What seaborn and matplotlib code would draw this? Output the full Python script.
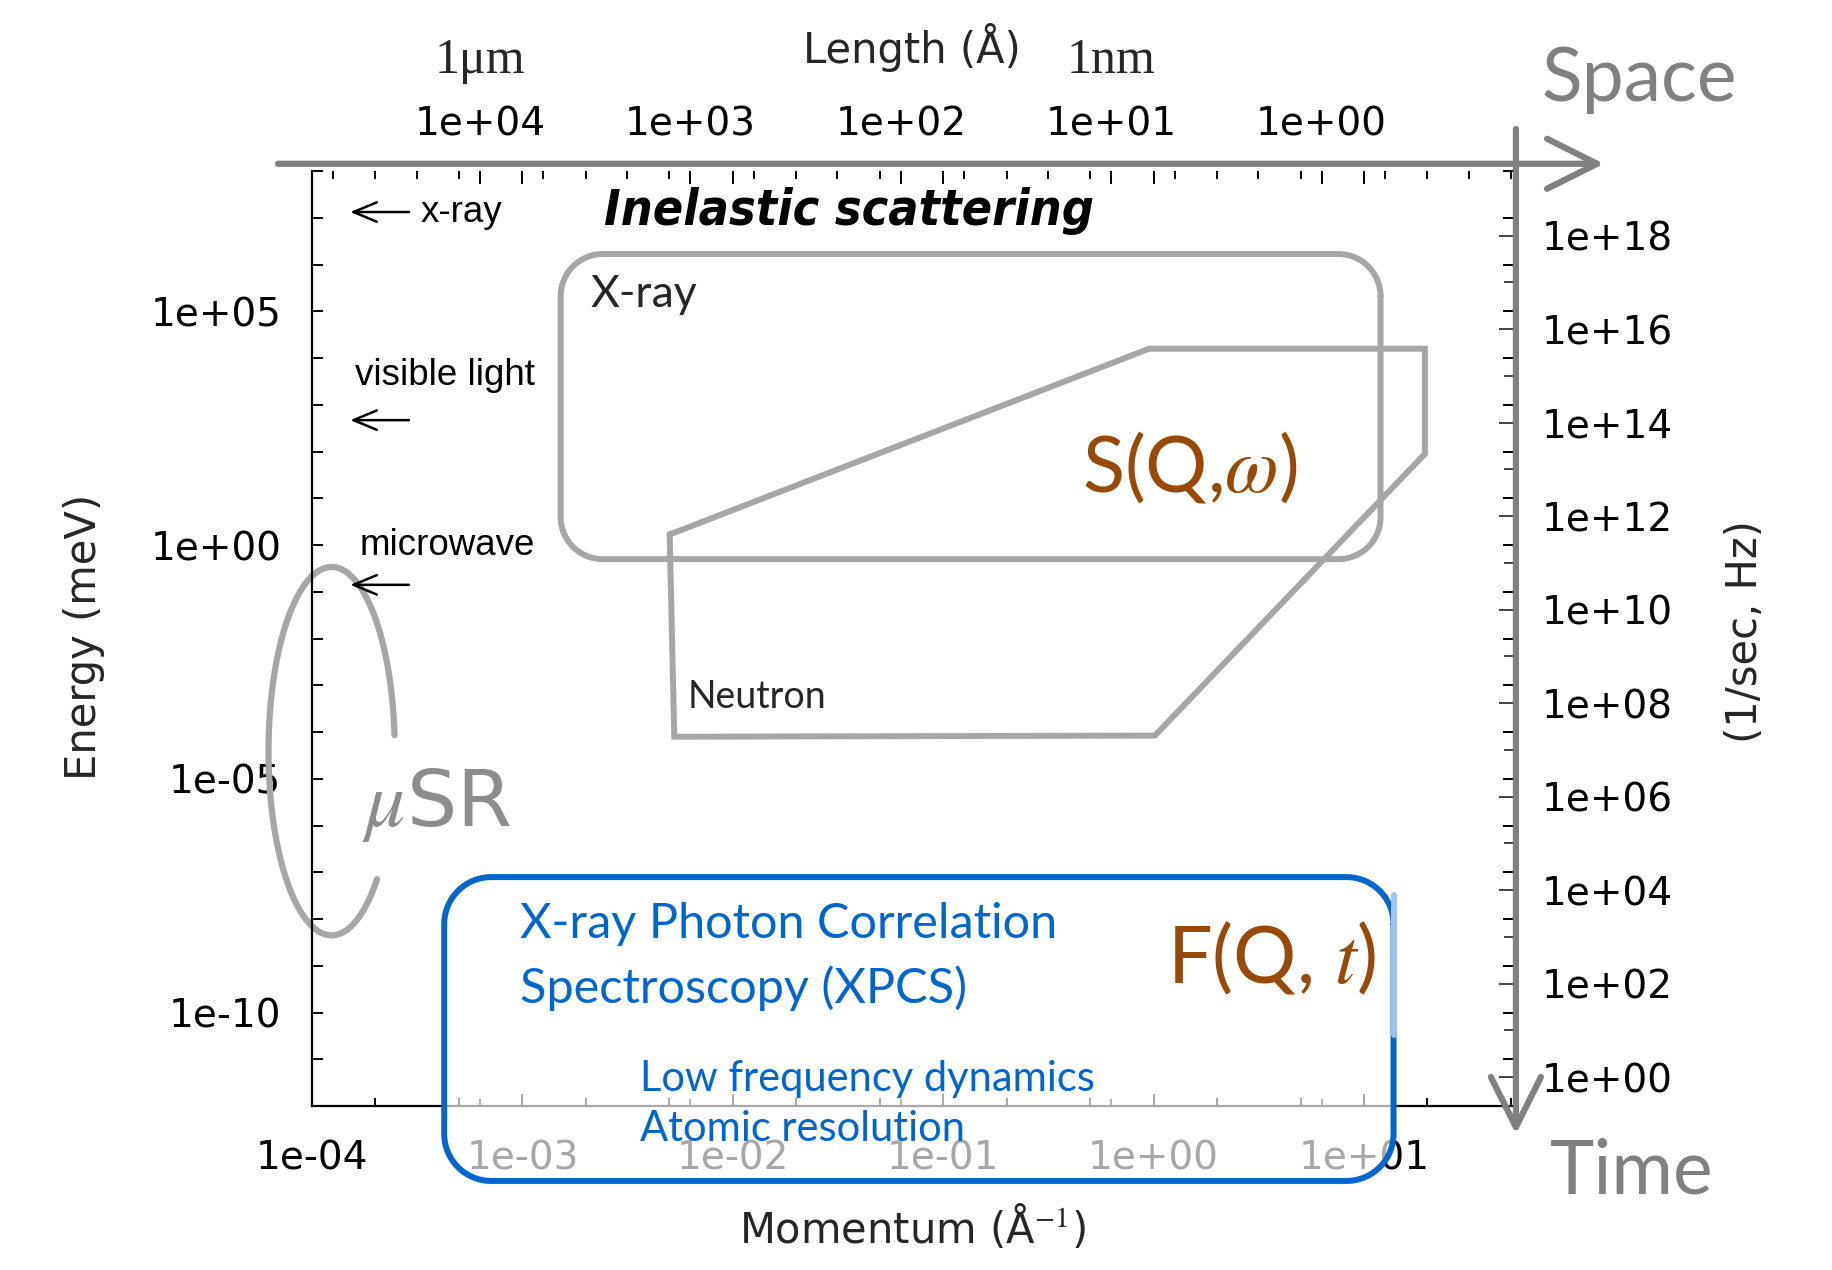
import numpy as np
import pandas as pd
import matplotlib
matplotlib.use("Agg")
import matplotlib.pyplot as plt
import matplotlib.ticker as mticker
import matplotlib.transforms as mtransforms
import seaborn as sns

# ---------------- chart values ----------------
momentum_limits = [1e-4, 51.5]                      # 1/Å
energy_limits = [1e-12, 1e8]                        # meV
momentum_ticks = [1e-4, 1e-3, 1e-2, 1e-1, 1e0, 1e1]
energy_ticks = [1e-10, 1e-5, 1e0, 1e5]
energy_decades = [10.0 ** k for k in range(-12, 9)]
length_ticks = [1e4, 1e3, 1e2, 1e1, 1e0]            # Å
frequency_ticks = [10.0 ** k for k in range(0, 19, 2)]        # Hz
frequency_minor_ticks = [10.0 ** k for k in range(1, 19, 2)]
MEV_TO_HZ = 2.417989e11

length_marks = ["1μm", "1nm"]
length_mark_values = [1e4, 1e1]

band_names = ["x-ray", "visible light", "microwave"]
band_arrow_energy = [1.33e7, 4.7e2, 0.141]
band_label_momentum = [3.29e-4, 1.61e-4, 1.69e-4]
band_label_energy = [1.33e7, 4.2e3, 1.0]
band_arrow_momentum = [2.89e-4, 1.52e-4]            # tail, head

xray_momentum = [1.52e-3, 11.97]
xray_energy = [0.50, 1.68e6]

neutron_momentum = [5.01e-3, 0.951, 19.45, 19.45, 1.014, 5.27e-3, 5.01e-3]
neutron_energy = [1.68, 1.585e4, 1.585e4, 89.1, 8.41e-5, 7.94e-5, 1.68]

xpcs_momentum = [4.25e-4, 13.8]
xpcs_energy = [2.5e-14, 7.9e-8]
xpcs_light_edge_energy = [3.35e-8, 3.35e-11]

musr_center = [1.24e-4, 3.9e-5]
musr_half_decades = [0.30, 3.94]
musr_arc_degrees = [5, 316]

# ---------------- style ----------------
sns.set_theme(style="white")
plt.rcParams['font.family'] = ['DejaVu Sans']
plt.rcParams['mathtext.fontset'] = 'stix'

GRAY_LINE = '#A6A6A6'
GRAY_AXIS = '#808080'
BROWN = '#984807'
BLUE = '#0066CC'

fig = plt.figure(figsize=(18.33, 12.70), dpi=100)
ax = fig.add_axes([0.1702, 0.1291, 0.6557, 0.7362])
ax.set_facecolor('white')
ax.set_xscale('log')
ax.set_yscale('log')
ax.set_xlim(momentum_limits)
ax.set_ylim(energy_limits)

sci = mticker.FuncFormatter(lambda v, _: f"{v:.0e}")

ax.xaxis.set_major_locator(mticker.FixedLocator(momentum_ticks))
ax.xaxis.set_minor_locator(mticker.LogLocator(base=10, subs=(2, 5)))
ax.xaxis.set_major_formatter(sci)
ax.xaxis.set_minor_formatter(mticker.NullFormatter())
ax.yaxis.set_major_locator(mticker.FixedLocator(energy_ticks))
ax.yaxis.set_minor_locator(mticker.FixedLocator(energy_decades))
ax.yaxis.set_major_formatter(sci)
ax.yaxis.set_minor_formatter(mticker.NullFormatter())

ax.tick_params(axis='both', which='both', direction='in', colors='black',
               width=1.4, labelsize=28)
ax.tick_params(axis='x', which='major', length=9, pad=24, bottom=True, top=True)
ax.tick_params(axis='x', which='minor', length=6, bottom=True, top=True)
ax.tick_params(axis='y', which='both', length=8, pad=22, left=True, right=True)
for s in ['left', 'bottom']:
    ax.spines[s].set_color('black')
    ax.spines[s].set_linewidth(1.6)
for s in ['top', 'right']:
    ax.spines[s].set_visible(False)

ax.set_ylabel('Energy (meV)', fontsize=30)
ax.yaxis.label.set_va('center')
ax.yaxis.set_label_coords(-0.1897, 0.5016)
ax.set_xlabel('Momentum (Å$^{-1}$)', fontsize=30)
ax.xaxis.label.set_va('center')
ax.xaxis.set_label_coords(0.4992, -0.1294)


def q_to_len(q):
    q = np.asarray(q, dtype=float)
    with np.errstate(divide='ignore'):
        return 2 * np.pi / q


sec_top = ax.secondary_xaxis('top', functions=(q_to_len, q_to_len))
sec_top.xaxis.set_major_locator(mticker.FixedLocator(length_ticks))
sec_top.xaxis.set_major_formatter(sci)
sec_top.xaxis.set_minor_locator(mticker.LogLocator(base=10, subs=(2, 5)))
sec_top.xaxis.set_minor_formatter(mticker.NullFormatter())
sec_top.tick_params(which='both', direction='in', colors='black', width=1.4, labelsize=28)
sec_top.tick_params(which='major', length=9, pad=20)
sec_top.tick_params(which='minor', length=6)
sec_top.spines['top'].set_visible(False)

sec_bot = ax.secondary_xaxis('bottom', functions=(q_to_len, q_to_len))
sec_bot.xaxis.set_major_locator(mticker.FixedLocator(length_ticks))
sec_bot.xaxis.set_major_formatter(mticker.NullFormatter())
sec_bot.xaxis.set_minor_locator(mticker.NullLocator())
sec_bot.tick_params(which='both', direction='in', colors='black', width=1.2, length=5)
sec_bot.spines['bottom'].set_visible(False)

sec_r = ax.secondary_yaxis('right', functions=(lambda e: np.asarray(e) * MEV_TO_HZ,
                                               lambda f: np.asarray(f) / MEV_TO_HZ))
sec_r.yaxis.set_major_locator(mticker.FixedLocator(frequency_ticks))
sec_r.yaxis.set_minor_locator(mticker.FixedLocator(frequency_minor_ticks))
sec_r.yaxis.set_major_formatter(sci)
sec_r.yaxis.set_minor_formatter(mticker.NullFormatter())
sec_r.tick_params(which='both', direction='in', color='#404040', labelcolor='black',
                  width=1.4, labelsize=28)
sec_r.tick_params(which='major', length=11, pad=20)
sec_r.tick_params(which='minor', length=7)
sec_r.spines['right'].set_visible(False)

# pixel per decade for shape geometry (display-round corners)
pos = ax.get_position()
fw, fh = fig.get_size_inches() * fig.dpi
ppd_x = pos.width * fw / np.log10(momentum_limits[1] / momentum_limits[0])
ppd_y = pos.height * fh / np.log10(energy_limits[1] / energy_limits[0])


def rounded_box(qs, es, radius_px, n=24):
    x0, x1 = np.log10(qs)
    y0, y1 = np.log10(es)
    rx, ry = radius_px / ppd_x, radius_px / ppd_y
    corners = [(x1 - rx, y1 - ry, 0), (x0 + rx, y1 - ry, 90),
               (x0 + rx, y0 + ry, 180), (x1 - rx, y0 + ry, 270)]
    xs, ys = [], []
    for cx, cy, a in corners:
        t = np.radians(np.linspace(a, a + 90, n))
        xs.extend(cx + rx * np.cos(t))
        ys.extend(cy + ry * np.sin(t))
    xs.append(xs[0])
    ys.append(ys[0])
    return 10 ** np.array(xs), 10 ** np.array(ys)


def line(q, e, color, lw, z, clip=True):
    sns.lineplot(x=q, y=e, sort=False, estimator=None, color=color, lw=lw,
                 ax=ax, legend=False, zorder=z)
    ln = ax.lines[-1]
    ln.set_clip_on(clip)
    ln.set_solid_joinstyle('miter')
    return ln


# X-ray box
xq, xe = rounded_box(xray_momentum, xray_energy, 42)
line(xq, xe, GRAY_LINE, 4.3, 2)
# Neutron polygon
line(neutron_momentum, neutron_energy, GRAY_LINE, 4.3, 2)
# muSR arc
t = np.radians(np.linspace(musr_arc_degrees[0], musr_arc_degrees[1], 200))
mq = 10 ** (np.log10(musr_center[0]) + musr_half_decades[0] * np.cos(t))
me = 10 ** (np.log10(musr_center[1]) + musr_half_decades[1] * np.sin(t))
line(mq, me, GRAY_LINE, 4.5, 2, clip=False)

# XPCS box (semi-opaque white fill over axis)
bq, be = rounded_box(xpcs_momentum, xpcs_energy, 47)
ax.fill(bq, be, color='white', alpha=0.66, zorder=3, clip_on=False, lw=0)
line(bq, be, BLUE, 4.3, 4, clip=False)
line([xpcs_momentum[1], xpcs_momentum[1]], xpcs_light_edge_energy, '#9DC3E6', 4.3, 4.1, clip=False)

# band arrows + labels
for name, ea, lq, le in zip(band_names, band_arrow_energy, band_label_momentum, band_label_energy):
    ax.annotate('', xy=(band_arrow_momentum[1], ea), xytext=(band_arrow_momentum[0], ea),
                arrowprops=dict(arrowstyle='->,head_length=0.6,head_width=0.25', lw=1.8,
                                color='black', mutation_scale=28, shrinkA=0, shrinkB=0),
                zorder=5)
    ax.text(lq, le, name, fontsize=26.5, family='Liberation Sans', va='center', ha='left',
            color='black', zorder=5)

# texts inside
ax.text(10 ** -1.45, 10 ** 7.15, 'Inelastic scattering', fontsize=36, fontweight='heavy',
        fontstyle='italic', fontstretch='condensed', ha='center', va='center', color='black')
ax.text(10 ** -2.678, 10 ** 5.35, 'X-ray', fontsize=32, family='Lato', ha='left', va='center')
ax.text(10 ** -2.217, 10 ** -3.25, 'Neutron', fontsize=27, family='Lato', ha='left', va='center')
ax.text(10 ** 0.172, 10 ** 1.65, r'S(Q,$\omega$)', fontsize=56, family='Lato', color=BROWN,
        ha='center', va='center', zorder=5)
ax.text(10 ** 0.561, 10 ** -8.85, r'F(Q, $t$)', fontsize=57, family='Lato', color=BROWN,
        ha='center', va='center', zorder=5)
ax.text(10 ** -3.011, 10 ** -8.1, 'X-ray Photon Correlation', fontsize=35, family='Lato',
        color=BLUE, ha='left', va='center', zorder=5)
ax.text(10 ** -3.011, 10 ** -9.475, 'Spectroscopy (XPCS)', fontsize=35, family='Lato',
        color=BLUE, ha='left', va='center', zorder=5)
ax.text(10 ** -2.439, 10 ** -11.425, 'Low frequency dynamics', fontsize=30, family='Lato',
        color=BLUE, ha='left', va='center', zorder=5)
ax.text(10 ** -2.439, 10 ** -12.5, 'Atomic resolution', fontsize=30, family='Lato',
        color=BLUE, ha='left', va='center', zorder=5)
ax.text(10 ** -3.761, 10 ** -5.55, r'$\mu$SR', fontsize=57, color='#8C8C8C',
        ha='left', va='center', zorder=5)

# gray space / time arrows
arrow_kw = dict(arrowstyle='->,head_length=0.9,head_width=0.45', lw=4.5, color=GRAY_AXIS,
                shrinkA=0, shrinkB=0, mutation_scale=40)
ax.annotate('', xy=(1.075, 1.0078), xytext=(-0.0283, 1.0078), xycoords='axes fraction',
            textcoords='axes fraction', arrowprops=arrow_kw, annotation_clip=False, zorder=6)
ax.annotate('', xy=(1.0017, -0.030), xytext=(1.0017, 1.045), xycoords='axes fraction',
            textcoords='axes fraction', arrowprops=arrow_kw, annotation_clip=False, zorder=6)

# outer labels
ax.text(0.499, 1.1326, 'Length (Å)', transform=ax.transAxes, fontsize=30,
        ha='center', va='center')
ax.text(1.192, 0.508, '(1/sec, Hz)', transform=ax.transAxes, fontsize=30,
        rotation=90, ha='center', va='center')
ax.text(1.104, 1.098, 'Space', transform=ax.transAxes, fontsize=54, family='Lato',
        color=GRAY_AXIS, ha='center', va='center')
ax.text(1.098, -0.0706, 'Time', transform=ax.transAxes, fontsize=54, family='Lato',
        color=GRAY_AXIS, ha='center', va='center')
blend = mtransforms.blended_transform_factory(ax.transData, ax.transAxes)
for lab, L in zip(length_marks, length_mark_values):
    ax.text(2 * np.pi / L, 1.1176, lab, transform=blend, fontsize=36,
            family='Liberation Serif', ha='center', va='center')

fig.savefig('out.png', dpi=100, facecolor='white')
